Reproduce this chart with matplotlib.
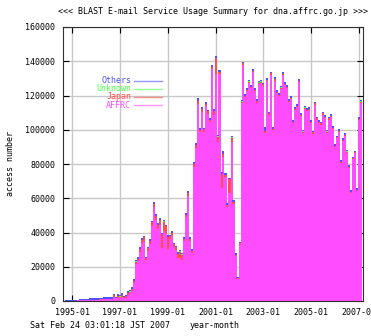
import matplotlib.pyplot as plt
import matplotlib.dates as mdates
import numpy as np
import pandas as pd

plt.rc('font', family='DejaVu Sans Mono', size=6)

# monthly access counts, first bar is 1994-09, last is 2007-02
first_month = '1994-09'
tick_months = ['1995-01', '1997-01', '1999-01', '2001-01', '2003-01', '2005-01', '2007-01']

total = [
    200, 300, 300, 300, 400, 300, 400, 500,
    1000, 1100, 1200, 1300, 1400, 1500, 1500, 1600, 1500, 1700,
    1800, 2000, 2200, 2100, 2300, 2400, 2500,
    4200, 2600, 3800, 3500, 4500, 3100, 3600, 5800, 6500, 8200,
    12800, 24000, 25500, 31300, 36800, 38100, 25900, 31700, 36000, 46900,
    57600, 50600, 45400, 48300, 39900, 47300, 44600, 38300, 38800, 40700,
    34100, 32200, 28500, 29800, 28000, 37200, 51200, 64200, 37100, 30100,
    80900, 92200, 118400, 100900, 113100, 101200, 116200, 111800, 106800, 137800,
    112100, 143100, 97000, 134900, 75200, 87400, 74600, 57000, 72000, 96400,
    59000, 27800, 14200, 34600, 117400, 139800, 120900, 124200, 129100, 126100,
    135300, 124200, 117800, 128500, 129100, 127500, 101800, 130000, 110600, 133900,
    101400, 130600, 123200, 121300, 125600, 133500, 128100, 126100, 117800, 119700,
    105700, 113100, 115000, 129500, 109600, 99900, 113900, 112500, 113100, 105700,
    99400, 116400, 107600, 105700, 104700, 110600, 108600, 99900, 107600, 109000,
    102200, 91700, 96500, 100300, 82300, 95000, 97900, 88200, 79400, 64800,
    84300, 87800, 65800, 107300, 117400,
]

japan = [
    0, 0, 0, 0, 0, 0, 0, 0,
    0, 0, 0, 0, 100, 0, 100, 0, 100, 100,
    100, 100, 200, 100, 200, 200, 300,
    1200, 300, 900, 800, 1200, 600, 700, 1200, 900, 1000,
    1200, 1500, 1200, 1500, 1800, 2000, 1200, 1500, 1800, 2000,
    2000, 2500, 2200, 2900, 8200, 5800, 4500, 6800, 1500, 1800,
    1500, 1500, 2500, 3900, 3000, 1500, 1500, 1800, 1200, 1000,
    1500, 1800, 1800, 1500, 1800, 1500, 1500, 1500, 1500, 1500,
    2300, 9300, 2900, 1500, 8200, 1500, 1200, 1200, 7800, 2700,
    1200, 800, 600, 800, 1000, 1000, 800, 800, 1000, 800,
    800, 800, 1000, 800, 800, 800, 1200, 800, 800, 800,
    800, 1200, 800, 800, 800, 800, 800, 800, 800, 800,
    800, 800, 800, 800, 800, 800, 800, 800, 800, 800,
    800, 800, 800, 800, 800, 800, 800, 800, 800, 800,
    600, 600, 600, 600, 600, 600, 600, 600, 600, 600,
    600, 600, 600, 600, 600,
]

unknown = [
    0, 0, 0, 0, 0, 0, 0, 0,
    0, 0, 0, 0, 0, 0, 0, 0, 0, 0,
    0, 0, 0, 0, 0, 0, 0,
    100, 100, 100, 100, 100, 100, 100, 100, 100, 100,
    100, 100, 100, 100, 100, 100, 100, 100, 100, 100,
    100, 100, 100, 100, 100, 100, 100, 100, 100, 100,
    100, 100, 100, 100, 100, 100, 100, 100, 100, 100,
    100, 100, 100, 100, 100, 100, 100, 100, 100, 100,
    100, 100, 100, 100, 100, 100, 100, 100, 100, 100,
    100, 100, 100, 100, 100, 100, 100, 100, 100, 100,
    100, 100, 100, 100, 100, 100, 100, 100, 100, 100,
    100, 100, 100, 100, 100, 100, 100, 100, 100, 100,
    100, 100, 100, 100, 100, 100, 100, 100, 100, 100,
    100, 100, 100, 100, 100, 100, 100, 100, 100, 100,
    100, 100, 100, 100, 100, 100, 100, 100, 100, 100,
    100, 100, 100, 100, 100,
]

others = [
    150, 150, 150, 150, 150, 150, 150, 150,
    500, 550, 600, 650, 700, 750, 750, 800, 750, 850,
    900, 1000, 1100, 1050, 1150, 1200, 1250,
    800, 700, 800, 800, 900, 700, 800, 900, 900, 1000,
    1000, 900, 900, 900, 900, 900, 800, 800, 900, 900,
    900, 800, 800, 800, 800, 800, 800, 800, 800, 800,
    800, 800, 800, 800, 800, 800, 800, 900, 800, 800,
    900, 900, 1500, 900, 1000, 900, 900, 900, 900, 1000,
    900, 1000, 900, 1000, 900, 1500, 900, 900, 900, 900,
    900, 800, 800, 800, 900, 1000, 900, 900, 900, 900,
    900, 900, 900, 900, 900, 900, 2500, 900, 900, 900,
    900, 900, 900, 900, 900, 900, 1200, 900, 900, 900,
    900, 900, 900, 900, 900, 900, 900, 900, 900, 900,
    900, 900, 900, 900, 900, 900, 900, 900, 900, 900,
    900, 1200, 900, 900, 900, 900, 900, 900, 900, 900,
    900, 900, 900, 900, 900,
]

colors = {'AFFRC': '#ff4cff', 'Japan': '#ff4c4c', 'Unknown': '#4cff4c', 'Others': '#5050ff'}

total = np.array(total)
japan = np.array(japan)
unknown = np.array(unknown)
others = np.array(others)
affrc = total - japan - unknown - others

months = pd.date_range(first_month, periods=len(total), freq='MS')

fig = plt.figure(figsize=(3.71, 3.36), dpi=100)
ax = fig.add_axes([63 / 371, 35 / 336, 300 / 371, 274 / 336])

bottom = np.zeros(len(total))
for name, vals in [('AFFRC', affrc), ('Japan', japan), ('Unknown', unknown), ('Others', others)]:
    ax.bar(months, vals, bottom=bottom, width=31, color=colors[name], linewidth=0)
    bottom = bottom + vals

ax.set_xlim(pd.Timestamp('1994-08-16'), pd.Timestamp('2007-03-01'))
ax.set_ylim(0, 160000)
ax.set_yticks(np.arange(0, 160001, 20000))
ax.set_xticks(pd.to_datetime(tick_months))
ax.xaxis.set_major_formatter(mdates.DateFormatter('%Y-%m'))

ax.grid(color='#c8c8c8', lw=1)
ax.set_axisbelow(True)
ax.tick_params(direction='in', top=True, right=True, length=4, width=0.8)
ax.tick_params(axis='y', pad=5.5)
ax.tick_params(axis='x', pad=5)
for s in ax.spines.values():
    s.set_color('#303030')
    s.set_linewidth(0.8)

# key, gnuplot style: right aligned text then sample line
key_y = [0.803, 0.774, 0.745, 0.715]
for name, yy in zip(['Others', 'Unknown', 'Japan', 'AFFRC'], key_y):
    ax.text(0.227, yy, name, transform=ax.transAxes, ha='right', va='center', color=colors[name])
    ax.plot([0.237, 0.33], [yy, yy], transform=ax.transAxes, color=colors[name], lw=1, alpha=0.6)

fig.text(213 / 371, 1 - 12 / 336, '<<< BLAST E-mail Service Usage Summary for dna.affrc.go.jp >>>',
         ha='center', va='center')
fig.text(30 / 371, 1 - 325.5 / 336, 'Sat Feb 24 03:01:18 JST 2007', va='center')
fig.text(215 / 371, 1 - 325.5 / 336, 'year-month', ha='center', va='center')
fig.text(10.5 / 371, 1 - 164 / 336, 'access number', rotation=90, ha='center', va='center')

fig.savefig('out.png', dpi=100)
